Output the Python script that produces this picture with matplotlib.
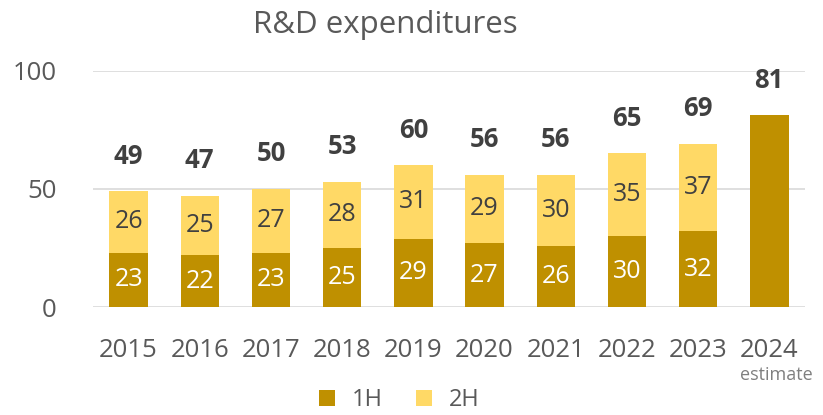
import matplotlib.pyplot as plt
import numpy as np

plt.rcParams['font.family'] = ['Open Sans', 'DejaVu Sans']

anos = ["2015", "2016", "2017", "2018", "2019", "2020", "2021", "2022", "2023", "2024"]
h1 = [23, 22, 23, 25, 29, 27, 26, 30, 32, 81]
h2 = [26, 25, 27, 28, 31, 29, 30, 35, 37, 0]
totais = [49, 47, 50, 53, 60, 56, 56, 65, 69, 81]

cor_1h = "#BF9000"
cor_2h = "#FFD966"

fig = plt.figure(figsize=(8.23, 4.15), dpi=100)
ax = fig.add_axes([0.113, 0.26, 0.865, 0.57])

x = np.arange(len(anos))
ax.bar(x, h1, width=0.54, color=cor_1h, label="1H", zorder=3)
ax.bar(x, h2, width=0.54, bottom=h1, color=cor_2h, label="2H", zorder=3)

# rótulos dentro das barras e totais acima
for i in range(len(anos)):
    if anos[i] != "2024":
        ax.text(x[i], h1[i] / 2, str(h1[i]), ha="center", va="center",
                color="white", fontsize=18, zorder=4)
        ax.text(x[i], h1[i] + h2[i] / 2, str(h2[i]), ha="center", va="center",
                color="#404040", fontsize=18, zorder=4)
    ax.annotate(str(totais[i]), (x[i], totais[i]), xytext=(0, 35),
                textcoords="offset pixels",
                ha="center", va="center", fontsize=18.5, fontweight="bold",
                color="#404040")

ax.set_ylim(0, 100)
ax.set_xlim(-0.5, len(anos) - 0.5)
ax.set_yticks([0, 50, 100])
ax.set_xticks(x)
ax.set_xticklabels(anos)
ax.tick_params(axis="both", length=0, labelsize=18.5, colors="#595959")
ax.tick_params(axis="x", pad=22)
ax.tick_params(axis="y", pad=26)
ax.grid(True, axis="y", color="#D9D9D9", linewidth=1.2, zorder=0)
for lado in ["top", "right", "left", "bottom"]:
    ax.spines[lado].set_visible(False)

ax.text(x[-1] + 0.1, -0.285, "estimate", transform=ax.get_xaxis_transform(),
        ha="center", va="center", fontsize=13, color="#7F7F7F")

fig.suptitle("R&D expenditures", x=0.468, y=0.975, fontsize=22.5, color="#595959")

fig.legend(loc="lower center", bbox_to_anchor=(0.485, -0.045), ncol=2, frameon=False,
           fontsize=17, handlelength=0.7, handleheight=0.7, columnspacing=1.4,
           handletextpad=0.7, labelcolor="#595959")

fig.savefig("out.png", dpi=100)
